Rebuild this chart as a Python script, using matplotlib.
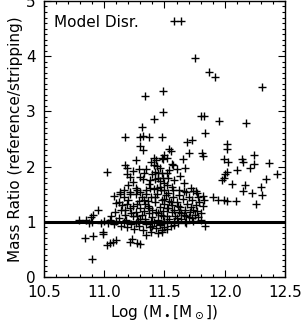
import matplotlib
matplotlib.use("Agg")
import matplotlib.pyplot as plt
from matplotlib.lines import Line2D
from matplotlib.ticker import MultipleLocator

# log stellar mass and mass ratio (reference / stripping)
log_mass = [
    11.75, 11.87, 11.92, 12.31, 11.49, 11.34, 11.49, 11.41, 11.31, 11.80,
    11.83, 11.95, 12.18, 11.17, 11.30, 11.32, 11.37, 11.48, 11.84, 11.30,
    11.32, 11.69, 11.73, 11.70, 11.81, 11.82, 11.54, 11.55, 11.50, 11.49,
    11.52, 11.65, 11.26, 11.41, 11.43, 11.48,
    12.02, 12.02, 11.99, 12.03, 12.14, 12.15, 12.24, 12.24, 12.21, 12.37,
    12.43, 12.10, 12.02, 12.00, 11.99, 11.98, 12.34, 12.06, 12.17, 12.30,
    12.15, 12.23, 12.31, 12.26, 12.09, 11.90, 11.94, 11.99, 12.02,
    11.56, 11.57, 11.54, 11.60, 11.67, 11.52, 11.49, 11.46, 11.56, 11.62,
    11.68, 11.74, 11.77, 11.82, 11.02, 11.17, 11.19, 11.24, 11.19, 11.21,
    11.41, 11.44, 11.46, 11.42, 11.40, 11.45, 11.30, 11.32, 11.38, 11.42,
    11.45, 11.24, 11.20, 11.13, 11.16, 11.21, 11.27, 11.30, 11.35, 11.41,
    11.46, 11.52, 11.50, 11.08, 11.13, 11.16, 11.21, 11.26, 11.10, 11.15,
    11.19, 11.17, 11.21, 11.27, 11.26, 11.30, 10.95, 10.91, 10.89, 10.85,
    10.79, 10.87, 10.90,
    10.84, 10.91, 10.90, 10.99, 10.99, 11.02, 11.05, 11.07, 11.10, 11.21,
    11.23, 11.27, 11.30, 11.35, 11.39, 11.45, 11.48, 11.50, 11.52, 11.84,
    11.67, 11.73,
    10.97, 11.00, 11.03, 11.05, 11.08, 11.10, 11.12, 11.14, 11.16, 11.18,
    11.19, 11.22, 11.24, 11.25, 11.28, 11.29,
    11.31, 11.32, 11.33, 11.34, 11.35, 11.36, 11.37, 11.38, 11.39, 11.40,
    11.40, 11.41, 11.42, 11.43, 11.43, 11.44, 11.45, 11.46, 11.46, 11.47,
    11.48, 11.48, 11.49, 11.50, 11.50, 11.51, 11.52, 11.52, 11.53, 11.54,
    11.54, 11.55, 11.56, 11.56, 11.57, 11.58, 11.58, 11.59, 11.60, 11.61,
    11.62, 11.63, 11.64, 11.65, 11.66, 11.67, 11.68, 11.69, 11.70, 11.71,
    11.72, 11.73, 11.74, 11.75, 11.76, 11.77, 11.78, 11.79, 11.80, 11.80,
    11.35, 11.38, 11.33, 11.31, 11.29, 11.27, 11.24, 11.22, 11.20, 11.17,
    11.14, 11.12, 11.09, 11.06, 11.44, 11.47, 11.53, 11.57, 11.62, 11.66,
    11.70, 11.36, 11.42, 11.49, 11.55, 11.61, 11.64, 11.58, 11.46, 11.40,
    11.34, 11.30, 11.26, 11.52, 11.45, 11.39, 11.37, 11.50, 11.60, 11.68,
    11.74, 11.78, 11.82, 11.83, 11.76, 11.72, 11.66, 11.63, 11.58, 11.53,
    11.50, 11.48, 11.37, 11.33, 11.29, 11.26, 11.35, 11.39,
]
mass_ratio = [
    3.96, 3.72, 3.63, 3.45, 3.36, 3.27, 2.99, 2.86, 2.71, 2.92,
    2.92, 2.82, 2.78, 2.53, 2.53, 2.55, 2.53, 2.54, 2.61, 2.37,
    2.30, 2.45, 2.48, 2.25, 2.24, 2.19, 2.31, 2.28, 2.21, 2.13,
    2.15, 2.13, 2.12, 2.16, 2.12, 2.15,
    2.40, 2.32, 2.13, 2.09, 2.13, 2.09, 2.20, 2.04, 1.98, 2.07,
    1.87, 1.93, 1.90, 1.86, 1.80, 1.75, 1.77, 1.68, 1.66, 1.63,
    1.55, 1.52, 1.48, 1.33, 1.37, 1.45, 1.40, 1.40, 1.38,
    2.04, 2.03, 1.93, 1.95, 1.97, 1.88, 1.79, 1.74, 1.63, 1.57,
    1.54, 1.56, 1.52, 1.46, 1.90, 2.03, 1.98, 1.92, 1.86, 1.81,
    2.03, 2.01, 1.98, 1.90, 1.86, 1.88, 1.81, 1.77, 1.76, 1.77,
    1.79, 1.72, 1.66, 1.54, 1.57, 1.54, 1.57, 1.54, 1.57, 1.60,
    1.63, 1.66, 1.57, 1.46, 1.51, 1.45, 1.51, 1.50, 1.34, 1.30,
    1.33, 1.21, 1.24, 1.33, 1.18, 1.24, 1.21, 1.12, 1.08, 1.03,
    1.04, 0.97, 1.00,
    0.71, 0.75, 0.32, 0.82, 0.78, 0.57, 0.61, 0.64, 0.67, 0.64,
    0.68, 0.62, 0.60, 0.76, 0.82, 0.79, 0.82, 0.91, 0.86, 0.92,
    1.00, 1.06,
    0.98, 1.02, 0.97, 1.03, 0.95, 1.01, 1.07, 0.93, 0.99, 1.04,
    0.90, 0.96, 1.10, 0.87, 1.02, 0.93,
    1.12, 0.85, 1.40, 1.05, 0.96, 1.28, 1.15, 0.90, 1.45, 1.08,
    1.22, 0.99, 1.35, 0.88, 1.18, 1.50, 1.03, 1.27, 0.94, 1.12,
    1.40, 0.85, 1.20, 1.02, 1.33, 1.48, 1.10, 0.97, 1.25, 1.38,
    1.05, 0.92, 1.17, 1.30, 1.45, 1.00, 1.22, 1.10, 1.35, 0.98,
    1.18, 1.27, 1.05, 1.42, 1.12, 1.22, 0.97, 1.32, 1.08, 1.18,
    1.26, 1.40, 1.02, 1.12, 1.30, 1.20, 1.08, 1.35, 1.15, 1.03,
    1.50, 1.62, 1.20, 1.45, 1.38, 1.10, 1.28, 1.16, 1.40, 1.12,
    1.22, 1.35, 1.18, 1.11, 1.62, 1.57, 1.52, 1.58, 1.48, 1.55,
    1.45, 1.38, 1.45, 1.10, 1.36, 1.28, 1.15, 0.94, 0.96, 0.93,
    1.32, 1.05, 0.98, 1.24, 1.16, 1.02, 1.25, 1.42, 1.07, 1.11,
    1.22, 1.45, 1.28, 1.40, 1.55, 1.62, 1.70, 1.82, 1.75, 1.80,
    1.70, 1.88, 1.68, 1.88, 1.95, 1.62, 1.95, 2.08,
]

x_range = (10.5, 12.5)
y_range = (0, 5)
x_ticks = [10.5, 11.0, 11.5, 12.0, 12.5]
y_ticks = [0, 1, 2, 3, 4, 5]
ref_ratio = 1.0

fig = plt.figure(figsize=(3.01, 3.25), dpi=100)
ax = fig.add_axes([0.146, 0.148, 0.801, 0.849])

ax.plot(log_mass, mass_ratio, ls='none', marker='+', color='black',
        markersize=5.5, markeredgewidth=1.0)
ax.axhline(ref_ratio, color='black', lw=2.2)

ax.set_xlim(*x_range)
ax.set_ylim(*y_range)
ax.set_xticks(x_ticks)
ax.set_xticklabels([f"{t:.1f}" for t in x_ticks])
ax.set_yticks(y_ticks)
ax.xaxis.set_minor_locator(MultipleLocator(0.1))
ax.yaxis.set_minor_locator(MultipleLocator(0.1))
ax.tick_params(which='both', direction='in', top=True, right=True,
               labelsize=11, width=0.8)
ax.tick_params(which='major', length=5, pad=6)
ax.tick_params(which='minor', length=2)
for s in ax.spines.values():
    s.set_linewidth(1.0)

ax.set_xlabel(r'Log (M$_\bullet$[M$_\odot$])', fontsize=11, labelpad=2)
ax.set_ylabel('Mass Ratio (reference/stripping)', fontsize=11, labelpad=2)

handle = Line2D([], [], ls='none', marker='+', color='black',
                markersize=5.5, markeredgewidth=1.0)
ax.legend([handle], ['Model Disr.'], loc='upper left',
          bbox_to_anchor=(0.04, 0.95), frameon=False, numpoints=2,
          markerfirst=False, handlelength=1.05, handletextpad=2.05,
          borderpad=0, borderaxespad=0, fontsize=11)

fig.savefig('out.png', dpi=100)
